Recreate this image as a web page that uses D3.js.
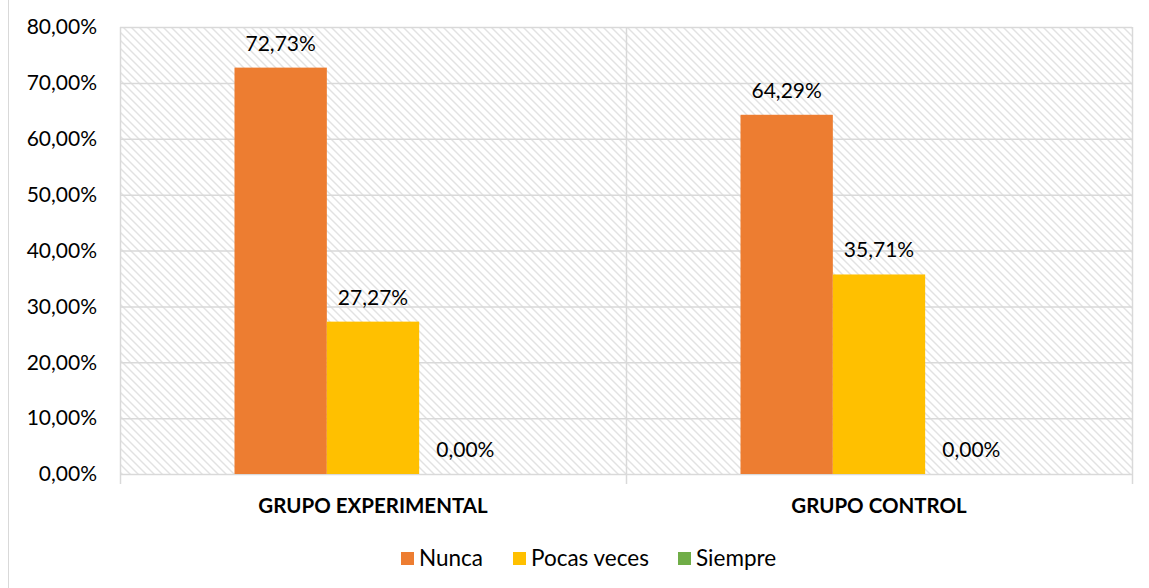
<!DOCTYPE html>
<html><head><meta charset="utf-8">
<script src="https://cdn.jsdelivr.net/npm/d3@7/dist/d3.min.js"></script>
<style>body{margin:0;background:#fff}svg{display:block}</style>
</head><body>
<svg id="c" width="1149" height="588"></svg>
<script>
const categories = ["GRUPO EXPERIMENTAL", "GRUPO CONTROL"];
const seriesNames = ["Nunca", "Pocas veces", "Siempre"];
const nunca = [72.73, 64.29];
const pocasVeces = [27.27, 35.71];
const siempre = [0.00, 0.00];
const yTicks = [0, 10, 20, 30, 40, 50, 60, 70, 80];
const colors = ["#ED7D31", "#FFC000", "#70AD47"];

const values = [nunca, pocasVeces, siempre];
const svg = d3.select("#c");
const font = "Lato, 'Open Sans', sans-serif";
const L = 120, R = 1132, T = 27, B = 474;

// chart border
svg.append("rect").attr("x", 8.5).attr("y", -20).attr("width", 1300).attr("height", 800)
  .attr("fill", "#fff").attr("stroke", "#d9d9d9").attr("stroke-width", 1);

const defs = svg.append("defs");
const pat = defs.append("pattern").attr("id", "hatch").attr("patternUnits", "userSpaceOnUse")
  .attr("width", 8).attr("height", 8);
pat.append("rect").attr("width", 8).attr("height", 8).attr("fill", "#fff");
pat.append("path").attr("d", "M-2,-2L10,10M-2,6L2,10M6,-2L10,2")
  .attr("stroke", "#e2e2e2").attr("stroke-width", 1.4);

const x0 = d3.scaleBand().domain(categories).range([L, R]);
const x1 = d3.scaleBand().domain(seriesNames).range([0, x0.bandwidth()]).paddingOuter(1.24);
const y = d3.scaleLinear().domain([0, 80]).range([B, T]);

svg.append("rect").attr("x", L).attr("y", T).attr("width", R - L).attr("height", B - T)
  .attr("fill", "url(#hatch)");

// gridlines
svg.append("g").selectAll("line").data(yTicks).join("line")
  .attr("x1", L).attr("x2", R).attr("y1", d => y(d) + 0.5).attr("y2", d => y(d) + 0.5)
  .attr("stroke", "#d9d9d9").attr("stroke-width", 1.5);
// vertical category separators
const seps = [L, L + x0.bandwidth(), R];
svg.append("g").selectAll("line").data(seps).join("line")
  .attr("x1", d => d + 0.5).attr("x2", d => d + 0.5)
  .attr("y1", T).attr("y2", B + 10)
  .attr("stroke", "#d9d9d9").attr("stroke-width", 1.5);

// y labels
svg.append("g").selectAll("text").data(yTicks).join("text")
  .attr("x", 97).attr("y", d => y(d)).attr("dy", "0.35em").attr("text-anchor", "end")
  .attr("font-family", font).attr("font-size", 21).attr("fill", "#000")
  .text(d => d.toFixed(2).replace(".", ",") + "%");

// bars
const g = svg.append("g");
categories.forEach((c, ci) => {
  seriesNames.forEach((s, si) => {
    const v = values[si][ci];
    const bx = x0(c) + x1(s);
    g.append("rect").attr("x", bx).attr("y", y(v)).attr("width", x1.bandwidth())
      .attr("height", B - y(v)).attr("fill", colors[si]);
    g.append("text").attr("x", bx + x1.bandwidth() / 2).attr("y", y(v) - 17)
      .attr("text-anchor", "middle").attr("font-family", font).attr("font-size", 21)
      .attr("fill", "#000").text(v.toFixed(2).replace(".", ",") + "%");
  });
});

// category labels
svg.append("g").selectAll("text").data(categories).join("text")
  .attr("x", d => x0(d) + x0.bandwidth() / 2).attr("y", 513).attr("text-anchor", "middle")
  .attr("font-family", font).attr("font-weight", "bold").attr("font-size", 20.5).attr("fill", "#000")
  .text(d => d);

// legend
const legX = [401, 513, 678];
const lg = svg.append("g");
seriesNames.forEach((s, i) => {
  lg.append("rect").attr("x", legX[i]).attr("y", 552).attr("width", 13).attr("height", 13).attr("fill", colors[i]);
  lg.append("text").attr("x", legX[i] + 18).attr("y", 566).attr("font-family", font)
    .attr("font-size", 22.5).attr("fill", "#000").text(s);
});
</script>
</body></html>
